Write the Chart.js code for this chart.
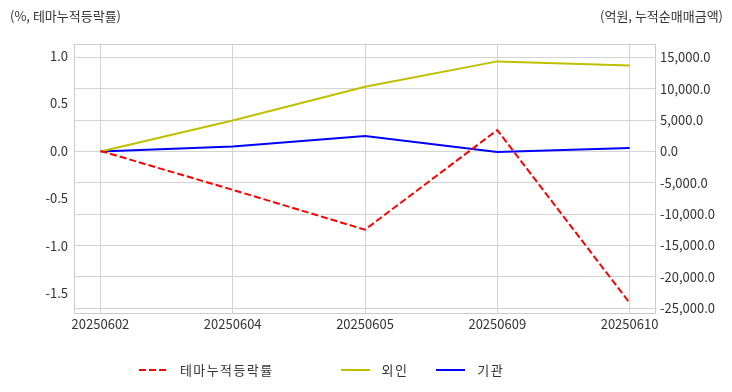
<!DOCTYPE html>
<html>
<head>
<meta charset="utf-8">
<script src="https://cdn.jsdelivr.net/npm/chart.js@4"></script>
<style>
    body { margin: 0; background: #fff; }
    #wrap { position: relative; width: 732px; height: 392px; }
    #legend {
        position: absolute; left: 139px; top: 360px;
        display: flex; align-items: center;
        font-family: "Noto Sans CJK KR", "Noto Sans", sans-serif;
        font-size: 13px; color: #333; letter-spacing: 1.4px;
    }
    .item { display: flex; align-items: center; }
    .item canvas { margin-right: 12px; }
</style>
</head>
<body>
<div id="wrap">
    <canvas id="chart" width="732" height="392"></canvas>
    <div id="legend"></div>
</div>
<script>
// data
const dates = ['20250602', '20250604', '20250605', '20250609', '20250610'];
const themeReturn = [0.0, -0.41, -0.83, 0.22, -1.60];   // %, 테마누적등락률
const foreignNet = [0, 4940, 10300, 14350, 13700];       // 억원, 외인
const instNet = [0, 800, 2450, -80, 550];                // 억원, 기관
const leftTicks = [-1.5, -1.0, -0.5, 0.0, 0.5, 1.0];
const rightTicks = [-25000, -20000, -15000, -10000, -5000, 0, 5000, 10000, 15000];

const seriesNames = ['테마누적등락률', '외인', '기관'];
const seriesColors = ['#ff0000', '#bfbf00', '#0000ff'];

const FONT = '"Noto Sans CJK KR", "Noto Sans", sans-serif';
const toPoints = arr => arr.map((v, i) => ({ x: i, y: v }));

// frame around the plot + the two unit captions on top
const framePlugin = {
    id: 'frame',
    beforeDatasetsDraw(chart) {
        const { ctx, chartArea: a } = chart;
        ctx.save();
        ctx.strokeStyle = '#cccccc';
        ctx.lineWidth = 1;
        ctx.strokeRect(a.left + 0.5, a.top + 0.5, a.right - a.left - 1, a.bottom - a.top);
        ctx.restore();
    },
    afterDraw(chart) {
        const ctx = chart.ctx;
        ctx.save();
        ctx.font = '13px ' + FONT;
        ctx.fillStyle = '#333';
        ctx.textBaseline = 'middle';
        ctx.textAlign = 'left';
        ctx.fillText('(%, 테마누적등락률)', 10, 16);
        ctx.textAlign = 'right';
        ctx.fillText('(억원, 누적순매매금액)', 723, 16);
        ctx.restore();
    }
};

const ctx = document.getElementById('chart').getContext('2d');
new Chart(ctx, {
    type: 'line',
    data: {
        datasets: [
            {
                label: seriesNames[0],
                data: toPoints(themeReturn),
                yAxisID: 'y',
                borderColor: seriesColors[0],
                borderDash: [7, 3],
                borderWidth: 2,
                pointRadius: 0,
                tension: 0
            },
            {
                label: seriesNames[1],
                data: toPoints(foreignNet),
                yAxisID: 'y1',
                borderColor: seriesColors[1],
                borderWidth: 2,
                pointRadius: 0,
                tension: 0
            },
            {
                label: seriesNames[2],
                data: toPoints(instNet),
                yAxisID: 'y1',
                borderColor: seriesColors[2],
                borderWidth: 2,
                pointRadius: 0,
                tension: 0
            }
        ]
    },
    options: {
        responsive: false,
        animation: false,
        layout: { padding: { top: 44, bottom: 49, left: 0, right: 0 } },
        plugins: {
            legend: { display: false },
            tooltip: { enabled: false }
        },
        scales: {
            x: {
                type: 'linear',
                min: -0.2,
                max: dates.length - 1 + 0.2,
                afterBuildTicks: axis => { axis.ticks = dates.map((_, i) => ({ value: i })); },
                afterFit: axis => { axis.height = 30; },
                ticks: {
                    callback: v => dates[v],
                    font: { family: FONT, size: 13 },
                    color: '#333',
                    padding: 3,
                    maxRotation: 0,
                    autoSkip: false
                },
                grid: { color: '#d4d4d4', drawTicks: false },
                border: { display: false }
            },
            y: {
                position: 'left',
                min: -1.708,
                max: 1.127,
                afterBuildTicks: axis => { axis.ticks = leftTicks.map(v => ({ value: v })); },
                afterFit: axis => { axis.width = 74; },
                ticks: {
                    callback: v => v.toFixed(1),
                    font: { family: FONT, size: 13 },
                    color: '#333',
                    padding: 6
                },
                grid: { display: false, drawTicks: false },
                border: { display: false }
            },
            y1: {
                position: 'right',
                min: -25750,
                max: 17120,
                afterBuildTicks: axis => { axis.ticks = rightTicks.map(v => ({ value: v })); },
                afterFit: axis => { axis.width = 76; },
                ticks: {
                    callback: v => v.toLocaleString('en-US', { minimumFractionDigits: 1, maximumFractionDigits: 1 }),
                    font: { family: FONT, size: 13 },
                    color: '#333',
                    padding: 4
                },
                grid: { color: '#d4d4d4', drawTicks: false },
                border: { display: false }
            }
        }
    },
    plugins: [framePlugin]
});

// legend below the chart
const legend = document.getElementById('legend');
const gaps = [67, 28, 0];
seriesNames.forEach((name, i) => {
    const item = document.createElement('div');
    item.className = 'item';
    item.style.marginRight = gaps[i] + 'px';
    const swatch = document.createElement('canvas');
    swatch.width = 29;
    swatch.height = 10;
    const sctx = swatch.getContext('2d');
    sctx.strokeStyle = seriesColors[i];
    sctx.lineWidth = 2;
    if (i === 0) sctx.setLineDash([7, 3]);
    sctx.beginPath();
    sctx.moveTo(0, 5);
    sctx.lineTo(29, 5);
    sctx.stroke();
    const label = document.createElement('span');
    label.textContent = name;
    item.appendChild(swatch);
    item.appendChild(label);
    legend.appendChild(item);
});
</script>
</body>
</html>
